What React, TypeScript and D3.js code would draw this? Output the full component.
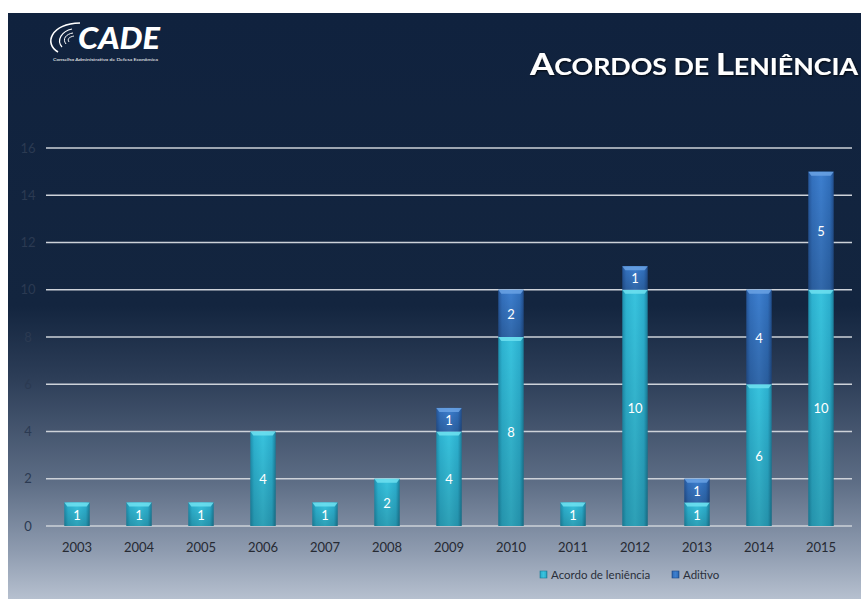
import * as React from 'react';
import * as d3 from 'd3';

const YEARS = ['2003', '2004', '2005', '2006', '2007', '2008', '2009', '2010', '2011', '2012', '2013', '2014', '2015'];
const ACORDO = [1, 1, 1, 4, 1, 2, 4, 8, 1, 10, 1, 6, 10];
const ADITIVO = [0, 0, 0, 0, 0, 0, 1, 2, 0, 1, 1, 4, 5];
const Y_TICKS = [0, 2, 4, 6, 8, 10, 12, 14, 16];
const SERIES = ['Acordo de leniência', 'Aditivo'];

const W = 861;
const H = 599;
const FONT = "Lato, 'Open Sans', sans-serif";

const App: React.FC = () => {
    const MARGIN = { top: 148, right: 9, bottom: 73, left: 46 };
    const innerW = W - MARGIN.left - MARGIN.right;
    const innerH = H - MARGIN.top - MARGIN.bottom;

    const x = d3.scaleBand<string>().domain(YEARS).range([0, innerW]).paddingInner(0.59).paddingOuter(0.295);
    const y = d3.scaleLinear().domain([0, 16]).range([innerH, 0]);

    const rows = YEARS.map((yr, i) => ({ yr, a: ACORDO[i], b: ADITIVO[i] }));
    const stack = d3.stack<{ yr: string; a: number; b: number }>().keys(['a', 'b'])(rows);
    const fills = ['url(#cyanG)', 'url(#blueG)'];
    const tops = ['#6fe0f0', '#6aa2e4'];

    return (
        <svg width={W} height={H} style={{ position: 'absolute', left: 0, top: 0 }}>
            <defs>
                <linearGradient id="bgG" x1="0" y1="0" x2="0" y2="1">
                    <stop offset="0" stopColor="#10223e" />
                    <stop offset="0.5" stopColor="#13253f" />
                    <stop offset="0.62" stopColor="#2c3d57" />
                    <stop offset="0.8" stopColor="#5d6d85" />
                    <stop offset="0.92" stopColor="#8f9cb0" />
                    <stop offset="1" stopColor="#b6c0cf" />
                </linearGradient>
                <linearGradient id="cyanG" x1="0" y1="0" x2="1" y2="0">
                    <stop offset="0" stopColor="#1e8fae" />
                    <stop offset="0.15" stopColor="#2db3d1" />
                    <stop offset="0.5" stopColor="#38c3de" />
                    <stop offset="0.85" stopColor="#2cb0cf" />
                    <stop offset="1" stopColor="#1b7f9c" />
                </linearGradient>
                <linearGradient id="blueG" x1="0" y1="0" x2="1" y2="0">
                    <stop offset="0" stopColor="#25569a" />
                    <stop offset="0.15" stopColor="#3371bf" />
                    <stop offset="0.5" stopColor="#3d7fcf" />
                    <stop offset="0.85" stopColor="#3170bd" />
                    <stop offset="1" stopColor="#224f8e" />
                </linearGradient>
                <linearGradient id="shadeG" x1="0" y1="0" x2="0" y2="1">
                    <stop offset="0" stopColor="#000" stopOpacity="0" />
                    <stop offset="1" stopColor="#000" stopOpacity="0.18" />
                </linearGradient>
                <filter id="tsh" x="-10%" y="-20%" width="120%" height="150%">
                    <feDropShadow dx="1" dy="1" stdDeviation="0.8" floodColor="#000" floodOpacity="0.8" />
                </filter>
            </defs>
            <rect x={0} y={0} width={W} height={H} fill="#fff" />
            <rect x={8} y={13} width={W - 8} height={H - 13} fill="url(#bgG)" />

            {/* logo */}
            <g fill="#fff">
                <path d="M58,52 C44,44 50,24 80,23" stroke="#fff" strokeWidth={1.6} fill="none" />
                <path d="M62,47 C56,40 62,31 72,29" stroke="#fff" strokeWidth={1.2} fill="none" />
                <path d="M66,44 C62,39 66,34 73,33" stroke="#fff" strokeWidth={1} fill="none" />
                <path d="M69,42 C67,39 69,37 74,36" stroke="#fff" strokeWidth={0.9} fill="none" />
                <text x={78} y={49} fontFamily={FONT} fontWeight={900} fontStyle="italic" fontSize={30} textLength={82} lengthAdjust="spacingAndGlyphs">CADE</text>
                <text x={53} y={61} fontFamily={FONT} fontSize={4.6} textLength={105} lengthAdjust="spacingAndGlyphs">Conselho Administrativo de Defesa Econômica</text>
            </g>

            {/* title */}
            <text x={530} y={75} fill="#fff" fontFamily={FONT} fontWeight={700} filter="url(#tsh)" textLength={328} lengthAdjust="spacingAndGlyphs">
                <tspan fontSize={30}>A</tspan>
                <tspan fontSize={23}>CORDOS DE </tspan>
                <tspan fontSize={30}>L</tspan>
                <tspan fontSize={23}>ENIÊNCIA</tspan>
            </text>

            <g transform={`translate(${MARGIN.left},${MARGIN.top})`} fontFamily={FONT}>
                {Y_TICKS.map((t) => (
                    <g key={t}>
                        <line x1={0} x2={innerW} y1={y(t)} y2={y(t)} stroke="#cdd2d9" strokeWidth={1.3} />
                        <text x={-18} y={y(t)} dy="0.35em" textAnchor="middle" fontSize={13} fill="#2b3a52">{t}</text>
                    </g>
                ))}
                {stack.map((s, si) =>
                    s.map((d, i) => {
                        const v = d[1] - d[0];
                        if (!v) return null;
                        const bx = x(rows[i].yr)!;
                        const y0 = y(d[1]);
                        const h = y(d[0]) - y(d[1]);
                        return (
                            <g key={`${si}-${i}`}>
                                <rect x={bx} y={y0} width={x.bandwidth()} height={h} fill={fills[si]} />
                                <rect x={bx} y={y0} width={x.bandwidth()} height={h} fill="url(#shadeG)" />
                                <path
                                    d={`M${bx},${y0} L${bx + x.bandwidth()},${y0} L${bx + x.bandwidth() - 3},${y0 + 4} L${bx + 3},${y0 + 4} Z`}
                                    fill={tops[si]}
                                    opacity={0.85}
                                />
                                <text
                                    x={bx + x.bandwidth() / 2}
                                    y={(y(d[0]) + y(d[1])) / 2 + 1}
                                    dy="0.35em"
                                    textAnchor="middle"
                                    fontSize={13}
                                    fill="#fff"
                                >
                                    {v}
                                </text>
                            </g>
                        );
                    })
                )}
                {YEARS.map((yr) => (
                    <text key={yr} x={x(yr)! + x.bandwidth() / 2} y={innerH + 26} textAnchor="middle" fontSize={13} fill="#262a33">
                        {yr}
                    </text>
                ))}
                {/* legend */}
                {SERIES.map((name, i) => {
                    const lx = [494, 626][i];
                    return (
                        <g key={name} transform={`translate(${lx},${innerH + 45})`}>
                            <rect x={0} y={0} width={7} height={7} fill={fills[i]} stroke={i ? '#1c4a8a' : '#1a7d98'} strokeWidth={0.6} />
                            <text x={11} y={4} dy="0.35em" fontSize={11.5} fill="#2a2f3a">{name}</text>
                        </g>
                    );
                })}
            </g>
        </svg>
    );
};

export default App;
